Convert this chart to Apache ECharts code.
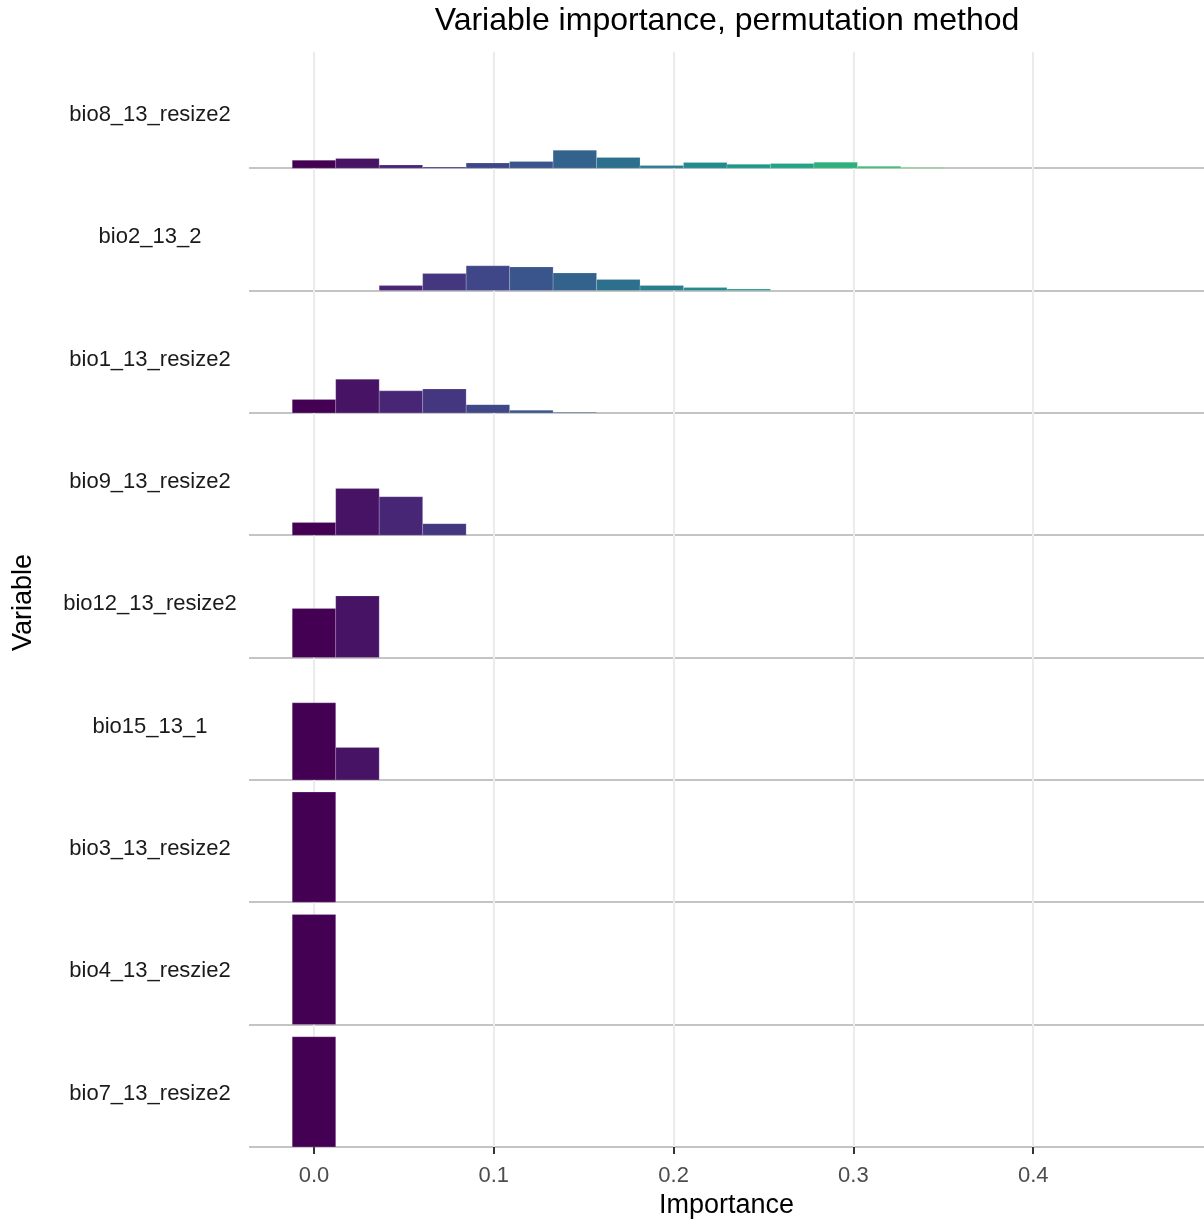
<!DOCTYPE html>
<html><head><meta charset="utf-8">
<script src="https://cdn.jsdelivr.net/npm/echarts@6/dist/echarts.min.js"></script>
<style>html,body{margin:0;padding:0;background:#fff}#c{width:1204px;height:1224px}</style>
</head><body><div id="c"></div>
<script>
// Rows listed bottom to top
const variables = ['bio7_13_resize2','bio4_13_reszie2','bio3_13_resize2','bio15_13_1','bio12_13_resize2','bio9_13_resize2','bio1_13_resize2','bio2_13_2','bio8_13_resize2'];
// histogram bins (importance)
const binStart = -0.0121;
const binWidth = 0.02418;
// share of permutations per bin, first bin starts at binStart
const bio7 = [1.0];
const bio4 = [1.0];
const bio3 = [1.0];
const bio15 = [0.70, 0.295];
const bio12 = [0.445, 0.56];
const bio9 = [0.115, 0.425, 0.35, 0.105];
const bio1 = [0.121, 0.305, 0.20, 0.218, 0.075, 0.024, 0.005];
const bio2 = [0, 0, 0.045, 0.155, 0.225, 0.215, 0.16, 0.10, 0.047, 0.027, 0.013];
const bio8 = [0.073, 0.088, 0.03, 0.01, 0.048, 0.061, 0.164, 0.097, 0.024, 0.052, 0.036, 0.043, 0.055, 0.018, 0.006];
const xTicks = [0, 0.1, 0.2, 0.3, 0.4];

const rowsData = [bio7, bio4, bio3, bio15, bio12, bio9, bio1, bio2, bio8];
const RIDGE_SCALE = 0.9;
const LABEL_OFFSET = 0.435;

const viridisStops = ['#440154','#482475','#414487','#355f8d','#2a788e','#21918c','#22a884','#44bf70','#7ad151','#bddf26','#fde725'];
function hex2rgb(h){return [parseInt(h.slice(1,3),16),parseInt(h.slice(3,5),16),parseInt(h.slice(5,7),16)];}
function viridis(t){
  t = Math.max(0, Math.min(1, t));
  const p = t * (viridisStops.length - 1);
  const i = Math.min(Math.floor(p), viridisStops.length - 2);
  const f = p - i;
  const a = hex2rgb(viridisStops[i]), b = hex2rgb(viridisStops[i+1]);
  const c = a.map((v, j) => Math.round(v + (b[j] - v) * f));
  return 'rgb(' + c.join(',') + ')';
}

const data = [];
rowsData.forEach((arr, row) => {
  arr.forEach((v, k) => {
    if (v > 0) data.push([binStart + binWidth * (k + 0.5), row, v, k]);
  });
});

const rowIdx = variables.map((_, i) => i);
const labelPos = variables.map((_, i) => i + LABEL_OFFSET);

const chart = echarts.init(document.getElementById('c'), null, {renderer: 'canvas'});
const FONT = "'Liberation Sans', Arial, sans-serif";
chart.setOption({
  animation: false,
  backgroundColor: '#ffffff',
  title: {
    text: 'Variable importance, permutation method',
    left: 727, top: 5, padding: 0, textAlign: 'center',
    textStyle: {fontFamily: FONT, fontSize: 32, fontWeight: 'normal', color: '#000'}
  },
  grid: {left: 249, right: 0, top: 52, bottom: 71, containLabel: false, outerBoundsMode: 'none'},
  xAxis: {
    type: 'value', min: -0.03615, max: 0.495,
    name: 'Importance', nameLocation: 'middle', nameGap: 37,
    nameTextStyle: {fontFamily: FONT, fontSize: 27, color: '#000'},
    axisLine: {show: false},
    axisTick: {show: true, customValues: xTicks, length: 7, lineStyle: {color: '#333333', width: 2}},
    axisLabel: {customValues: xTicks, fontFamily: FONT, fontSize: 22, color: '#4d4d4d', margin: 12,
      formatter: v => v.toFixed(1)},
    splitLine: {show: true, lineStyle: {color: '#ebebeb', width: 2}}
  },
  yAxis: {
    type: 'value', min: -0.05, max: 8.95,
    name: 'Variable', nameLocation: 'middle', nameGap: 212, nameRotate: 90,
    nameTextStyle: {fontFamily: FONT, fontSize: 27, color: '#000'},
    axisLine: {show: false},
    axisTick: {show: false, customValues: rowIdx},
    axisLabel: {customValues: labelPos, align: 'center', margin: 99, fontFamily: FONT, fontSize: 22, color: '#1a1a1a',
      formatter: v => variables[Math.round(v - LABEL_OFFSET)] || ''},
    splitLine: {show: true, lineStyle: {color: '#c4c4c4', width: 2}}
  },
  series: [{
    type: 'custom',
    data: data,
    encode: {x: 0, y: 1},
    renderItem: function(params, api) {
      const cx = api.value(0), row = api.value(1), h = api.value(2), k = api.value(3);
      const p0 = api.coord([cx - binWidth / 2, row + h * RIDGE_SCALE]);
      const p1 = api.coord([cx + binWidth / 2, row]);
      const col = viridis(k / 19);
      return {
        type: 'rect',
        shape: {x: p0[0], y: p0[1], width: p1[0] - p0[0], height: p1[1] - p0[1]},
        style: {fill: col, stroke: 'rgba(255,255,255,0.18)', lineWidth: 1}
      };
    }
  }]
});
</script>
</body></html>
